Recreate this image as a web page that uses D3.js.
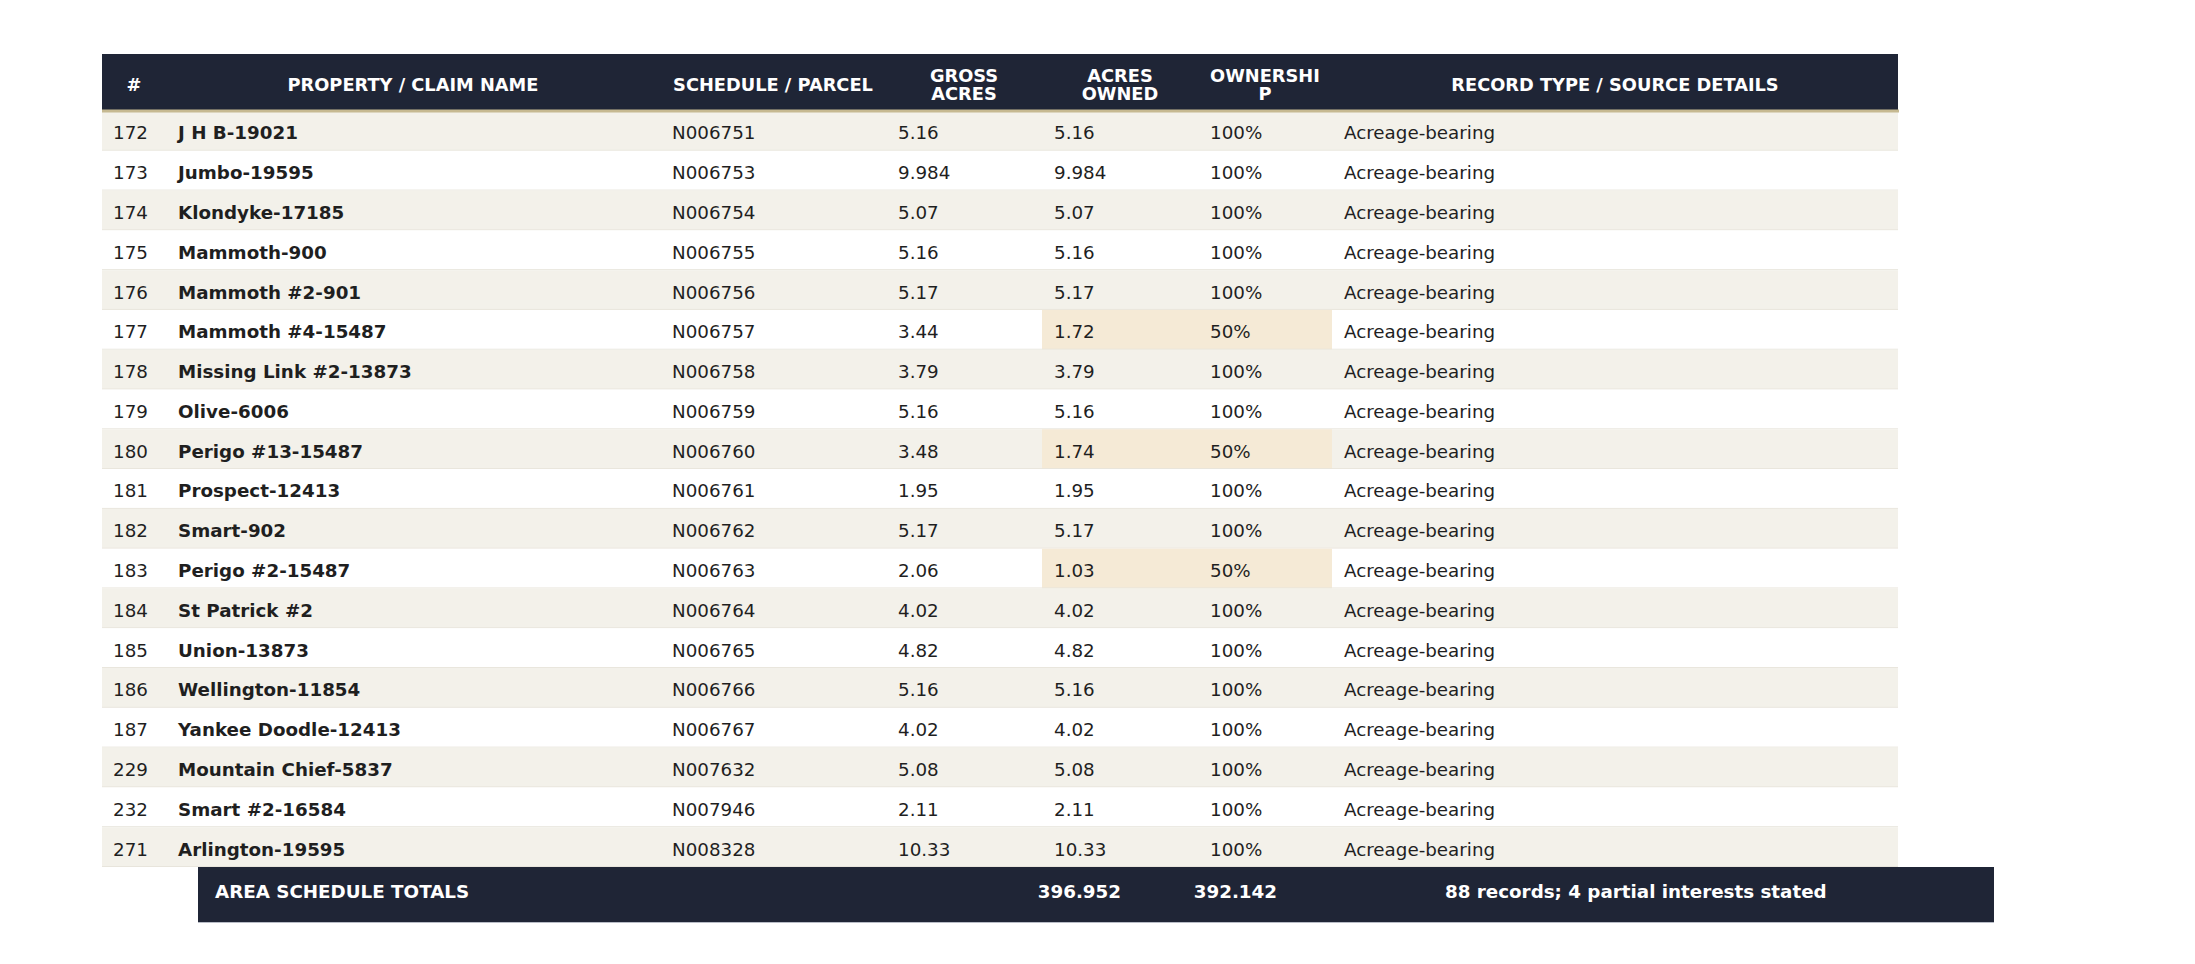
<!DOCTYPE html>
<html>
<head>
<meta charset="utf-8">
<script src="https://cdn.jsdelivr.net/npm/d3@7"></script>
<style>
body { margin: 0; background: #fff; }
svg { display: block; }
</style>
</head>
<body>
<div id="chart"></div>
<script>
// table data
var headers = [["#"], ["PROPERTY / CLAIM NAME"], ["SCHEDULE / PARCEL"], ["GROSS", "ACRES"], ["ACRES", "OWNED"], ["OWNERSHI", "P"], ["RECORD TYPE / SOURCE DETAILS"]];
var ids = ["172", "173", "174", "175", "176", "177", "178", "179", "180", "181", "182", "183", "184", "185", "186", "187", "229", "232", "271"];
var names = ["J H B-19021", "Jumbo-19595", "Klondyke-17185", "Mammoth-900", "Mammoth #2-901", "Mammoth #4-15487", "Missing Link #2-13873", "Olive-6006", "Perigo #13-15487", "Prospect-12413", "Smart-902", "Perigo #2-15487", "St Patrick #2", "Union-13873", "Wellington-11854", "Yankee Doodle-12413", "Mountain Chief-5837", "Smart #2-16584", "Arlington-19595"];
var parcels = ["N006751", "N006753", "N006754", "N006755", "N006756", "N006757", "N006758", "N006759", "N006760", "N006761", "N006762", "N006763", "N006764", "N006765", "N006766", "N006767", "N007632", "N007946", "N008328"];
var grossAcres = ["5.16", "9.984", "5.07", "5.16", "5.17", "3.44", "3.79", "5.16", "3.48", "1.95", "5.17", "2.06", "4.02", "4.82", "5.16", "4.02", "5.08", "2.11", "10.33"];
var acresOwned = ["5.16", "9.984", "5.07", "5.16", "5.17", "1.72", "3.79", "5.16", "1.74", "1.95", "5.17", "1.03", "4.02", "4.82", "5.16", "4.02", "5.08", "2.11", "10.33"];
var ownership = ["100%", "100%", "100%", "100%", "100%", "50%", "100%", "100%", "50%", "100%", "100%", "50%", "100%", "100%", "100%", "100%", "100%", "100%", "100%"];
var recordType = ["Acreage-bearing", "Acreage-bearing", "Acreage-bearing", "Acreage-bearing", "Acreage-bearing", "Acreage-bearing", "Acreage-bearing", "Acreage-bearing", "Acreage-bearing", "Acreage-bearing", "Acreage-bearing", "Acreage-bearing", "Acreage-bearing", "Acreage-bearing", "Acreage-bearing", "Acreage-bearing", "Acreage-bearing", "Acreage-bearing", "Acreage-bearing"];
var totalsLabel = "AREA SCHEDULE TOTALS";
var totalGross = "396.952";
var totalOwned = "392.142";
var totalsNote = "88 records; 4 partial interests stated";

var width = 2195;
var height = 964;
var colWidths = [64, 494, 226, 156, 156, 134, 566];
var tableLeft = 102;
var headTop = 54, headBottom = 111;
var bodyBottom = 867;
var totalsShift = 96, totalsBottom = 922;
var pad = 11;
var navy = "#1f2536";
var font = "DejaVu Sans";

// column edges
var colX = [tableLeft];
colWidths.forEach(function(w, i){ colX.push(colX[i] + w); });

var rows = ids.map(function(d, i){
	return {id: d, name: names[i], parcel: parcels[i], gross: grossAcres[i], owned: acresOwned[i], own: ownership[i], rec: recordType[i], partial: ownership[i] != "100%"};
});

var y = d3.scaleBand()
	.domain(d3.range(rows.length))
	.range([headBottom, bodyBottom]);

var chart = d3.select("#chart").append("svg")
	.attr("width", width)
	.attr("height", height);

// header
chart.append("rect")
	.attr("x", colX[0]).attr("y", headTop)
	.attr("width", colX[7] - colX[0]).attr("height", headBottom - headTop)
	.attr("fill", navy);

var head = chart.selectAll(".head")
	.data(headers)
	.enter().append("text")
	.attr("class", "head")
	.attr("x", function(d, i){ return (colX[i] + colX[i + 1]) / 2; })
	.attr("y", function(d){ return d.length == 1 ? (headTop + headBottom) / 2 + 8 : 81.5; })
	.attr("text-anchor", "middle")
	.attr("font-family", font)
	.attr("font-size", "17.8px")
	.attr("font-weight", "bold")
	.attr("fill", "#fff");
head.selectAll("tspan")
	.data(function(d){ return d; })
	.enter().append("tspan")
	.attr("x", function(){ return d3.select(this.parentNode).attr("x"); })
	.attr("dy", function(d, i){ return i == 0 ? 0 : 18.5; })
	.text(function(d){ return d; });

// body rows
var row = chart.selectAll(".row")
	.data(rows)
	.enter().append("g")
	.attr("class", "row")
	.attr("transform", function(d, i){ return "translate(0," + y(i) + ")"; });

row.append("rect")
	.attr("x", colX[0]).attr("width", colX[7] - colX[0])
	.attr("height", y.bandwidth())
	.attr("fill", function(d, i){ return i % 2 == 0 ? "#f3f1ea" : "#ffffff"; });

row.filter(function(d){ return d.partial; }).append("rect")
	.attr("x", colX[4]).attr("width", colX[6] - colX[4])
	.attr("height", y.bandwidth())
	.attr("fill", "#f5ead6");

row.append("line")
	.attr("x1", colX[0]).attr("x2", colX[7])
	.attr("y1", y.bandwidth() - 0.5).attr("y2", y.bandwidth() - 0.5)
	.attr("stroke", "#e8e5dc").attr("stroke-width", 1);

var fields = ["id", "name", "parcel", "gross", "owned", "own", "rec"];
fields.forEach(function(f, c){
	row.append("text")
		.attr("x", colX[c] + pad + (c == 0 ? 0 : 1))
		.attr("y", y.bandwidth() / 2 + 8.5)
		.attr("font-family", font)
		.attr("font-size", "18.3px")
		.attr("font-weight", c == 1 ? "bold" : "normal")
		.attr("fill", "#1f1f1f")
		.text(function(d){ return d[f]; });
});

// gold rule under header
chart.append("rect")
	.attr("x", colX[0]).attr("y", headBottom - 1.5)
	.attr("width", colX[7] - colX[0] + 1).attr("height", 3)
	.attr("fill", "#c6b991");

// totals row (offset)
var tx = colX.map(function(x){ return x + totalsShift; });
chart.append("rect")
	.attr("x", tx[0]).attr("y", bodyBottom)
	.attr("width", tx[7] - tx[0]).attr("height", totalsBottom - bodyBottom)
	.attr("fill", navy);
chart.append("line")
	.attr("x1", tx[0]).attr("x2", tx[7])
	.attr("y1", totalsBottom + 0.5).attr("y2", totalsBottom + 0.5)
	.attr("stroke", "#b8bcc6").attr("stroke-width", 1);

var totals = [
	{text: totalsLabel, x: tx[0] + 17, anchor: "start"},
	{text: totalGross, x: tx[4] - 17, anchor: "end"},
	{text: totalOwned, x: tx[5] - 17, anchor: "end"},
	{text: totalsNote, x: tx[6] + 17, anchor: "start"}
];
chart.selectAll(".tot")
	.data(totals)
	.enter().append("text")
	.attr("class", "tot")
	.attr("x", function(d){ return d.x; })
	.attr("y", 897.5)
	.attr("text-anchor", function(d){ return d.anchor; })
	.attr("font-family", font)
	.attr("font-size", "18.3px")
	.attr("font-weight", "bold")
	.attr("fill", "#fff")
	.text(function(d){ return d.text; });
</script>
</body>
</html>
